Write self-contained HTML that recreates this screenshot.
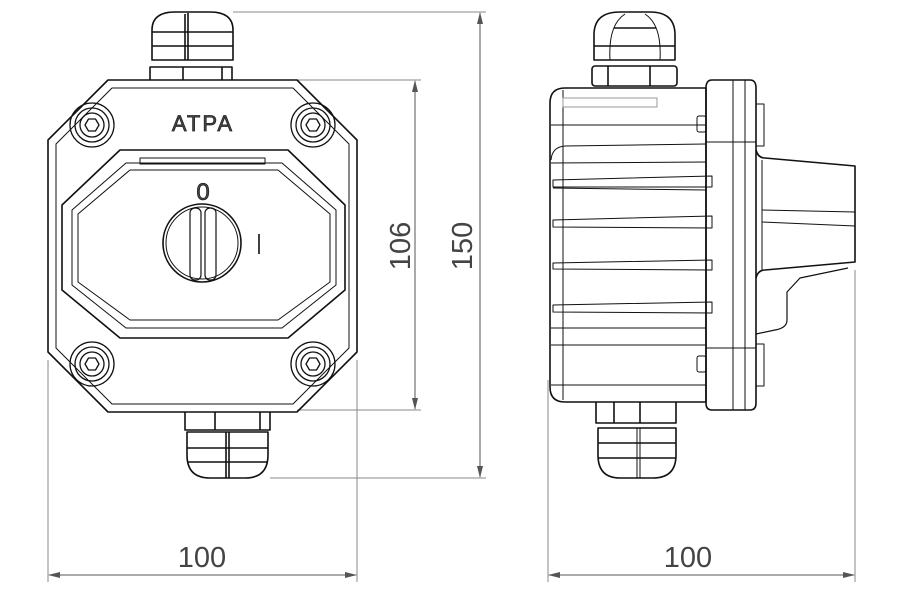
<!DOCTYPE html>
<html><head><meta charset="utf-8"><style>
html,body{margin:0;padding:0;background:#fff;}
svg{display:block;}
text{font-family:"Liberation Sans","DejaVu Sans",sans-serif;fill:#444;}
</style></head><body>
<svg width="900" height="600" viewBox="0 0 900 600" xmlns="http://www.w3.org/2000/svg">
<defs>
<marker id="ar" markerWidth="12" markerHeight="8" refX="11" refY="4" orient="auto-start-reverse" markerUnits="userSpaceOnUse">
<path d="M0,1 L12,4 L0,7 z" fill="#555"/></marker>
</defs>
<g fill="none" stroke="#888" stroke-width="1">
<line x1="233" y1="12" x2="486" y2="12"/>
<line x1="297" y1="80" x2="421" y2="80"/>
<line x1="297" y1="410" x2="421" y2="410"/>
<line x1="270" y1="478" x2="486" y2="478"/>
<line x1="48" y1="360" x2="48" y2="582"/>
<line x1="357" y1="360" x2="357" y2="582"/>
<line x1="548" y1="380" x2="548" y2="582"/>
<line x1="855" y1="270" x2="855" y2="582"/>
</g>
<g stroke="#555" stroke-width="1" fill="none">
<line x1="415" y1="81" x2="415" y2="409" marker-start="url(#ar)" marker-end="url(#ar)"/>
<line x1="480" y1="13" x2="480" y2="477" marker-start="url(#ar)" marker-end="url(#ar)"/>
<line x1="49" y1="575" x2="356" y2="575" marker-start="url(#ar)" marker-end="url(#ar)"/>
<line x1="549" y1="575" x2="854" y2="575" marker-start="url(#ar)" marker-end="url(#ar)"/>
</g>
<text x="202" y="567" font-size="29" text-anchor="middle">100</text>
<text x="688" y="567" font-size="29" text-anchor="middle">100</text>
<text transform="translate(410,246) rotate(-90)" font-size="29" text-anchor="middle">106</text>
<text transform="translate(472,246) rotate(-90)" font-size="29" text-anchor="middle">150</text>

<g fill="none" stroke="#111" stroke-width="1.6" stroke-linejoin="round">
<path d="M152,60 L152,30 Q152,12 175,12 L210,12 Q233,12 233,30 L233,60 Z"/>
<line x1="152" y1="46" x2="233" y2="46"/><line x1="152" y1="32" x2="233" y2="32"/>
<line x1="185" y1="14" x2="185" y2="60"/><line x1="188" y1="13" x2="188" y2="60"/>
<path d="M150,80 L150,67 L232,67 L232,80"/><line x1="183" y1="67" x2="183" y2="80"/><line x1="222" y1="67" x2="222" y2="80"/>
<path d="M108,80 L297,80 L357,140 L357,352 L297,412 L108,412 L48,352 L48,140 Z"/>
<path d="M112,88 L293,88 L349,144 L349,348 L293,404 L112,404 L56,348 L56,144 Z" stroke-width="1"/>
<path d="M120,150 L288,150 L345,205 L345,290 L288,338 L120,338 L62,290 L62,205 Z"/>
<path d="M126,163 L282,163 L336,210 L336,285 L282,328 L126,328 L72,285 L72,210 Z" stroke-width="1"/>
<path d="M130,170 L278,170 L330,214 L330,282 L278,320 L130,320 L78,282 L78,214 Z" stroke-width="1"/>
<rect x="140" y="158" width="125" height="6" stroke-width="1"/>
<circle cx="202" cy="243" r="39"/><circle cx="202" cy="243" r="36" stroke-width="1"/>
<rect x="190" y="208" width="11" height="72" rx="5" stroke-width="1.2"/>
<rect x="205" y="208" width="11" height="72" rx="5" stroke-width="1.2"/>
<line x1="259" y1="234" x2="259" y2="254"/>
<g stroke-width="1.3">
<circle cx="92" cy="125" r="22"/><circle cx="92" cy="125" r="17"/><circle cx="92" cy="125" r="12"/><polygon points="99,125 95.5,131 88.5,131 85,125 88.5,119 95.5,119"/>
<circle cx="313" cy="125" r="22"/><circle cx="313" cy="125" r="17"/><circle cx="313" cy="125" r="12"/><polygon points="320,125 316.5,131 309.5,131 306,125 309.5,119 316.5,119"/>
<circle cx="92" cy="364" r="22"/><circle cx="92" cy="364" r="17"/><circle cx="92" cy="364" r="12"/><polygon points="99,364 95.5,370 88.5,370 85,364 88.5,358 95.5,358"/>
<circle cx="313" cy="364" r="22"/><circle cx="313" cy="364" r="17"/><circle cx="313" cy="364" r="12"/><polygon points="320,364 316.5,370 309.5,370 306,364 309.5,358 316.5,358"/>
</g>
<path d="M185,412 L185,430 L270,430 L270,412"/><line x1="215" y1="412" x2="215" y2="430"/><line x1="260" y1="412" x2="260" y2="430"/>
<path d="M187,432 L268,432 L268,455 Q268,478 245,478 L210,478 Q187,478 187,455 Z"/>
<line x1="187" y1="448" x2="268" y2="448"/><line x1="187" y1="462" x2="268" y2="462"/>
<line x1="226" y1="432" x2="226" y2="478"/><line x1="229" y1="432" x2="229" y2="478"/>
</g>
<text x="203" y="131" font-size="22" text-anchor="middle" fill="#fff" stroke="#222" stroke-width="0.7" letter-spacing="2">ATPA</text>
<text x="203" y="200" font-size="24" text-anchor="middle" fill="#fff" stroke="#222" stroke-width="0.7">0</text>

<g fill="none" stroke="#111" stroke-width="1.6" stroke-linejoin="round">
<path d="M594,60 L594,35 Q594,12 620,12 L650,12 Q675,12 675,35 L675,60 Z"/>
<line x1="594" y1="46" x2="675" y2="46"/><line x1="614" y1="28" x2="656" y2="28"/>
<path d="M610,60 Q608,25 625,14 M660,60 Q662,25 645,14" stroke-width="1"/>
<rect x="592" y="66" width="85" height="20" rx="3"/><line x1="608" y1="66" x2="608" y2="86"/><line x1="650" y1="66" x2="650" y2="86"/>
<path d="M565,88 L706,88 L706,402 L565,402 Q550,402 550,387 L550,103 Q550,88 565,88 Z"/>
<line x1="563" y1="90" x2="563" y2="400" stroke-width="1"/>
<rect x="563" y="98" width="94" height="9" stroke="#999" stroke-width="1"/>
<g stroke-width="1">
<line x1="551" y1="125" x2="706" y2="125"/>
<path d="M551,160 Q552,147 565,146 L706,144"/><line x1="551" y1="163" x2="706" y2="162"/>
<path d="M553,180 L712,176 L712,187 L553,187 Z"/>
<line x1="553" y1="188" x2="706" y2="190"/>
<path d="M553,220 L712,216 L712,228 L553,227 Z"/>
<path d="M553,263 L712,260 L712,270 L553,269 Z"/>
<path d="M553,305 L712,302 L712,313 L553,312 Z"/>
<line x1="551" y1="328" x2="706" y2="328"/>
<line x1="551" y1="345" x2="706" y2="345"/>
<line x1="551" y1="385" x2="706" y2="385"/>
<rect x="697" y="116" width="9" height="16" rx="2"/>
<rect x="697" y="356" width="9" height="16" rx="2"/>
</g>
<path d="M712,80 L750,80 Q756,80 756,88 L756,403 Q756,410 750,410 L712,410 Q706,410 706,403 L706,88 Q706,80 712,80 Z"/>
<line x1="733" y1="80" x2="733" y2="410" stroke-width="1"/><line x1="745" y1="80" x2="745" y2="410" stroke-width="1"/>
<line x1="706" y1="142" x2="756" y2="142" stroke-width="1"/><line x1="706" y1="348" x2="756" y2="348" stroke-width="1"/>
<rect x="756" y="104" width="8" height="42" stroke-width="1"/>
<rect x="756" y="344" width="8" height="42" stroke-width="1"/>
<path d="M756,150 Q758,158 765,158 L855,166 L855,262 L765,270 Q758,270 756,278"/>
<line x1="762" y1="160" x2="762" y2="270" stroke-width="1"/>
<line x1="762" y1="210" x2="855" y2="212" stroke-width="1"/>
<line x1="762" y1="222" x2="855" y2="226" stroke-width="1"/>
<path d="M848,268 L800,278 L787,292 L787,320 Q787,328 775,330 L756,334" stroke-width="1.2"/>
<path d="M596,402 L596,423 L676,423 L676,402"/><line x1="614" y1="402" x2="614" y2="423"/><line x1="640" y1="402" x2="640" y2="423"/>
<path d="M598,428 L676,428 L676,455 Q676,478 653,478 L620,478 Q598,478 598,455 Z"/>
<line x1="598" y1="443" x2="676" y2="443"/><line x1="598" y1="458" x2="676" y2="458"/>
<line x1="637" y1="428" x2="637" y2="478" stroke-width="1"/><line x1="640" y1="428" x2="640" y2="478" stroke-width="1"/>
</g>
</svg>
</body></html>
